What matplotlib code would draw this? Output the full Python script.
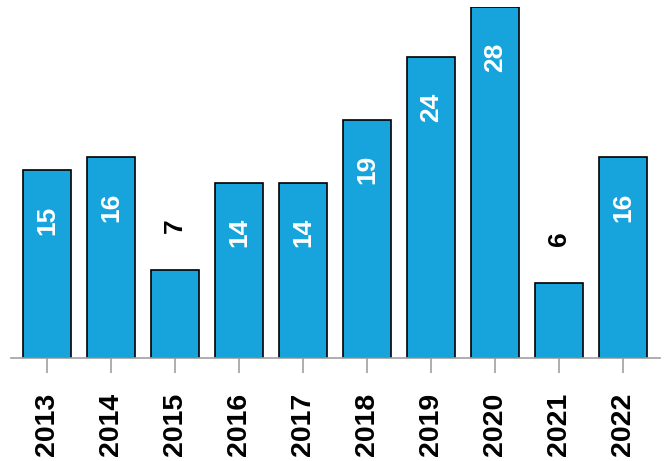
import matplotlib.pyplot as plt

years = ["2013", "2014", "2015", "2016", "2017", "2018", "2019", "2020", "2021", "2022"]
counts = [15, 16, 7, 14, 14, 19, 24, 28, 6, 16]

BAR_COLOR = "#17a3dc"
FONT = ["Liberation Sans", "DejaVu Sans"]

fig = plt.figure(figsize=(6.65, 4.61), dpi=100)
ax = fig.add_axes([11 / 665, 1 - 358 / 461, 649 / 665, 351 / 461])

x = range(len(years))
bars = ax.bar(x, counts, width=0.75, color=BAR_COLOR, edgecolor="black", linewidth=1.2)

ax.set_xlim(-0.5625, len(years) - 0.42)
ax.set_ylim(0, 28)

# labels: white inside tall bars, black above short ones
for i, v in enumerate(counts):
    if v >= 10:
        ax.annotate(str(v), (i, v), xytext=(0, -36), textcoords="offset points",
                    rotation=90, ha="center", va="center", color="white",
                    fontsize=19, fontweight="bold", family=FONT)
    else:
        ax.annotate(str(v), (i, v), xytext=(0, 32), textcoords="offset points",
                    rotation=90, ha="center", va="center", color="black",
                    fontsize=19, fontweight="bold", family=FONT)

ax.set_xticks(list(x))
ax.set_xticklabels(years, rotation=90, fontsize=20.5, fontweight="bold", family=FONT)
ax.tick_params(axis="x", length=11, width=1.2, color="#a0a0a0", pad=14)
ax.set_yticks([])

for side in ["top", "right", "left"]:
    ax.spines[side].set_visible(False)
ax.spines["bottom"].set_color("#a0a0a0")
ax.spines["bottom"].set_linewidth(1.2)

fig.savefig("out.png", dpi=100)
